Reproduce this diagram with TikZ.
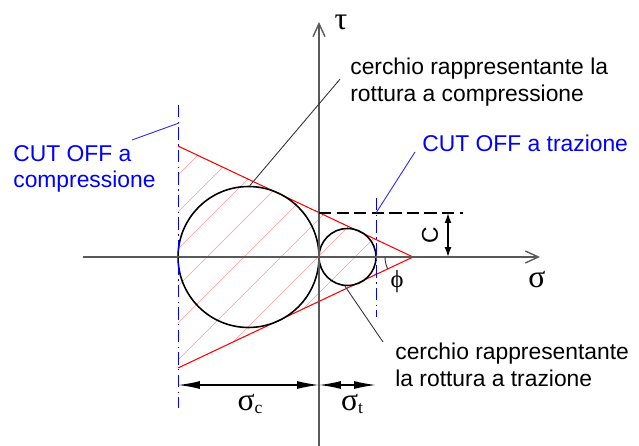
\documentclass[tikz,border=0pt]{standalone}
\usepackage{fontspec}
\setmainfont{Liberation Sans}
\newfontfamily\greekfont{Liberation Serif}
\usetikzlibrary{arrows.meta}

\begin{document}
\begin{tikzpicture}[x=0.02cm, y=0.02cm, every node/.style={font=\fontsize{13}{15}\selectfont, inner sep=0pt},
	axis/.style={draw=black!65, line width=0.8pt, -{Straight Barb[length=2.6mm,width=2.4mm]}},
	cutoff/.style={blue, line width=0.5pt, dash pattern=on 7pt off 2.5pt on 0.8pt off 2.5pt},
	envelope/.style={red, line width=0.6pt},
	mohr/.style={draw=black, line width=0.9pt, circle},
	leader/.style={black!80, line width=0.5pt},
	blueleader/.style={blue!85, line width=0.5pt},
	dimline/.style={line width=0.8pt, {Latex[length=4.4mm,width=1.6mm]}-{Latex[length=4.4mm,width=1.6mm]}},
	dimc/.style={line width=0.8pt, {Latex[length=2mm,width=1.4mm]}-{Latex[length=2mm,width=1.4mm]}},
	greek/.style={font=\greekfont\fontsize{18}{18}\selectfont}]
	\useasboundingbox (-319,-189) rectangle (320,257);
	\begin{scope}
		\clip (-141,111) -- (57,17.5) -- (57,-17.5) -- (-141,-111) -- cycle;
		\foreach \c in {-184,-147,...,260}
			\draw[red!40, line width=0.35pt] (-200,-200+\c) -- (100,100+\c);
	\end{scope}
	\coordinate (A) at (-141,111);
	\coordinate (B) at (-141,-111);
	\coordinate (P) at (94,0);
	\draw[envelope] (A) -- (P) -- (B);
	\node[mohr, minimum size=2.82cm] (bigc) at (-70.5,0) {};
	\node[mohr, minimum size=1.14cm] (smallc) at (28.5,0) {};
	\draw[axis] (-236,0) -- (221,0);
	\draw[axis] (0,-189) -- (0,235);
	\node[greek] (tau) at (22,235) {τ};
	\node[greek] (sig) at (218,-23) {σ};
	\draw[cutoff] (-141,152) -- (-141,-151);
	\draw[cutoff] (57,59) -- (57,-60);
	\coordinate (T1) at (57,44);
	\draw[black, line width=0.8pt, dash pattern=on 7pt off 3pt] (0,44) -- (144,44);
	\draw[dimc] (129,44) -- (129,0);
	\node[rotate=90] (clab) at (111,22) {C};
	\draw[leader] (P) ++(180:28) arc (180:205.3:28);
	\node[font=\greekfont\fontsize{14}{14}\selectfont] (phi) at (78,-25) {ϕ};
	\node[anchor=north west, align=left] (ccomp) at (31,199) {cerchio rappresentante la\\rottura a compressione};
	\draw[leader] (bigc.89) -- ([shift={(-10,3)}]ccomp.west);
	\node[anchor=north west, align=left] (ctens) at (76,-86) {cerchio rappresentante\\la rottura a trazione};
	\draw[leader] (smallc.-95) -- ([shift={(-12,1)}]ctens.north west);
	\node[blue, anchor=base west] (cotr) at (103,105) {CUT OFF a trazione};
	\draw[blueleader] (T1) -- ([shift={(-7,0)}]cotr.base west);
	\node[blue, anchor=north west, align=left] (cocomp) at (-306,112) {CUT OFF a\\compressione};
	\draw[blueleader] ([shift={(119,5)}]cocomp.north west) -- (-140,134);
	\coordinate (dL) at (-141,-128);
	\coordinate (dO) at (0,-128);
	\coordinate (dR) at (57,-128);
	\draw[dimline] (dL) -- (dO);
	\draw[dimline] (dO) -- (dR);
	\node[greek] (sc) at (-69,-147) {σ\raisebox{-2pt}{\fontsize{10}{10}\selectfont c}};
	\node[greek] (st) at (33,-147) {σ\raisebox{-2pt}{\fontsize{10}{10}\selectfont t}};
\end{tikzpicture}
\end{document}
